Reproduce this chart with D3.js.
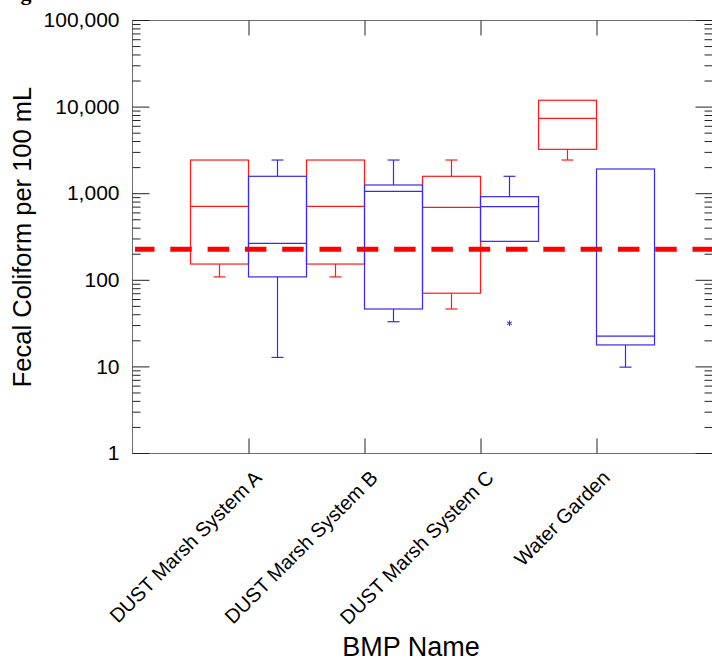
<!DOCTYPE html>
<html>
<head>
<meta charset="utf-8">
<script src="https://cdn.jsdelivr.net/npm/d3@7"></script>
<style>
  html, body { margin: 0; padding: 0; background: #fff; }
  svg { display: block; font-family: "Liberation Sans", Arial, sans-serif; }
</style>
</head>
<body>
<svg id="chart" width="712" height="662"></svg>
<script>
// ---- data ----
const categories = ["DUST Marsh System A", "DUST Marsh System B", "DUST Marsh System C", "Water Garden"];
const inflowMin    = [108, 108, 46, 2416];
const inflowQ1     = [152, 152, 70, 3210];
const inflowMedian = [706, 706, 687, 7330];
const inflowQ3     = [2416, 2416, 1567, 11830];
const inflowMax    = [2416, 2416, 2416, 2416];
const outflowMin    = [12.7, 32.8, 278, 9.8];
const outflowQ1     = [108, 46, 278, 17.7];
const outflowMedian = [264, 1051, 698, 22.4];
const outflowQ3     = [1567, 1244, 912, 1903];
const outflowMax    = [2416, 2416, 1567, 1903];
const outflowOutliers = [[], [], [31.5], []];
const standardValue = 226;
const yMajorTicks = [1, 10, 100, 1000, 10000, 100000];
const titleText = "Figure 4. Fecal Coliform Inflow and Outflow Concentrations at Each BMP with Standard";
const yTitle = "Fecal Coliform per 100 mL";
const xTitle = "BMP Name";

// ---- layout ----
const plotL = 132.5, plotR = 712.5, plotT = 20.5, plotB = 453.5;
const svg = d3.select("#chart");

const x = d3.scalePoint().domain(categories).range([plotL, plotR]).padding(1);
const step = x.step();
const half = step / 2;
const y = d3.scaleLog().domain([1, 100000]).range([453, 20]);

const yMinor = [];
for (let e = 0; e < 5; e++) for (let m = 2; m <= 9; m++) yMinor.push(m * Math.pow(10, e));

// title (cut off at the top, as in the source)
svg.append("text").attr("x", 1).attr("y", 0)
  .attr("font-family", "Liberation Serif, serif").attr("font-weight", "bold")
  .attr("font-size", 22).attr("fill", "#000").text(titleText);

// frame
svg.append("rect").attr("x", plotL).attr("y", plotT)
  .attr("width", plotR - plotL).attr("height", plotB - plotT)
  .attr("fill", "none").attr("stroke", "#6e6e6e").attr("stroke-width", 1);

function styleTicks(g) {
  g.select(".domain").remove();
  g.selectAll(".tick line").attr("stroke", "#222");
  g.selectAll(".tick text").remove();
}

// left ticks
svg.append("g").attr("transform", `translate(${plotL},0)`)
  .call(d3.axisRight(y).tickValues(yMajorTicks).tickSize(17).tickFormat(""))
  .call(styleTicks);
svg.append("g").attr("transform", `translate(${plotL},0)`)
  .call(d3.axisRight(y).tickValues(yMinor).tickSize(8).tickFormat(""))
  .call(styleTicks);
// right ticks
svg.append("g").attr("transform", `translate(${plotR},0)`)
  .call(d3.axisLeft(y).tickValues(yMajorTicks).tickSize(17).tickFormat(""))
  .call(styleTicks);
svg.append("g").attr("transform", `translate(${plotR},0)`)
  .call(d3.axisLeft(y).tickValues(yMinor).tickSize(8).tickFormat(""))
  .call(styleTicks);
// top / bottom ticks
svg.append("g").attr("transform", `translate(0,${plotT})`)
  .call(d3.axisBottom(x).tickSize(15).tickFormat(""))
  .call(styleTicks);
svg.append("g").attr("transform", `translate(0,${plotB})`)
  .call(d3.axisTop(x).tickSize(15).tickFormat(""))
  .call(styleTicks);

// y labels
const yl = svg.append("g").attr("transform", `translate(${plotL},0)`)
  .call(d3.axisLeft(y).tickValues(yMajorTicks).tickSize(0).tickPadding(13).tickFormat(d3.format(",")));
yl.select(".domain").remove();
yl.selectAll("text").attr("font-size", 21).attr("font-family", "Liberation Sans, Arial, sans-serif").attr("fill", "#000");

// x labels
const xl = svg.append("g").attr("transform", `translate(0,${plotB})`)
  .call(d3.axisBottom(x).tickSize(0).tickFormat(d => d));
xl.select(".domain").remove();
xl.selectAll("text")
  .attr("font-size", 20).attr("font-family", "Liberation Sans, Arial, sans-serif").attr("fill", "#000")
  .attr("text-anchor", "end").attr("dy", null).attr("y", null)
  .attr("transform", "translate(14,25.5) rotate(-45)");

// axis titles
svg.append("text").attr("transform", "translate(31,237) rotate(-90)")
  .attr("text-anchor", "middle").attr("font-size", 25.5).attr("fill", "#000").text(yTitle);
svg.append("text").attr("x", 411).attr("y", 656)
  .attr("text-anchor", "middle").attr("font-size", 27).attr("fill", "#000").text(xTitle);

// boxes
const cap = 12;
function drawBoxes(side, color, mins, q1s, meds, q3s, maxs) {
  const g = svg.append("g").attr("fill", "none").attr("stroke", color).attr("stroke-width", 1.2);
  categories.forEach((c, i) => {
    const x0 = side < 0 ? x(c) - half : x(c);
    const x1 = x0 + half;
    const cx = (x0 + x1) / 2;
    g.append("rect").attr("x", x0).attr("y", y(q3s[i]))
      .attr("width", half).attr("height", y(q1s[i]) - y(q3s[i]));
    g.append("line").attr("x1", x0).attr("x2", x1).attr("y1", y(meds[i])).attr("y2", y(meds[i]));
    if (maxs[i] > q3s[i]) {
      g.append("line").attr("x1", cx).attr("x2", cx).attr("y1", y(q3s[i])).attr("y2", y(maxs[i]));
      g.append("line").attr("x1", cx - cap / 2).attr("x2", cx + cap / 2).attr("y1", y(maxs[i])).attr("y2", y(maxs[i]));
    }
    if (mins[i] < q1s[i]) {
      g.append("line").attr("x1", cx).attr("x2", cx).attr("y1", y(q1s[i])).attr("y2", y(mins[i]));
      g.append("line").attr("x1", cx - cap / 2).attr("x2", cx + cap / 2).attr("y1", y(mins[i])).attr("y2", y(mins[i]));
    }
  });
  return g;
}
const red = "#ff1a1a", blue = "#3a28ee";
drawBoxes(-1, red, inflowMin, inflowQ1, inflowMedian, inflowQ3, inflowMax);
drawBoxes(1, blue, outflowMin, outflowQ1, outflowMedian, outflowQ3, outflowMax);

// outliers
const star = d3.symbol().type(d3.symbolAsterisk).size(22);
categories.forEach((c, i) => {
  outflowOutliers[i].forEach(v => {
    svg.append("path").attr("d", star())
      .attr("transform", `translate(${x(c) + half / 2},${y(v)})`)
      .attr("fill", "none").attr("stroke", blue).attr("stroke-width", 1);
  });
});

// standard line
svg.append("line").attr("x1", 135).attr("x2", 712)
  .attr("y1", y(standardValue)).attr("y2", y(standardValue))
  .attr("stroke", "#ff0000").attr("stroke-width", 5)
  .attr("stroke-dasharray", "21.5,15.8").attr("stroke-dashoffset", 2);
</script>
</body>
</html>
